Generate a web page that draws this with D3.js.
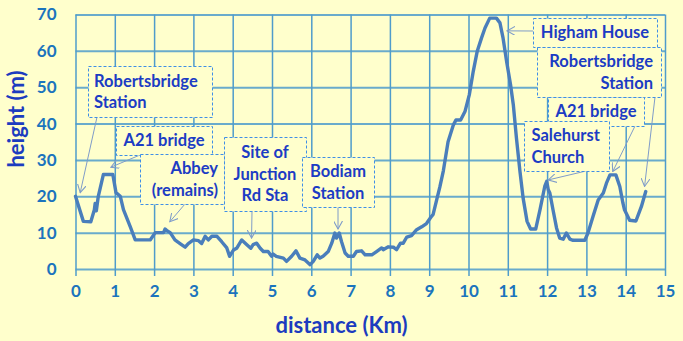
<!DOCTYPE html>
<html>
<head>
<meta charset="utf-8">
<script src="https://cdn.jsdelivr.net/npm/d3@7"></script>
<style>
  body { margin: 0; background: #ffffcc; }
  svg { display: block; }
</style>
</head>
<body>
<div id="chart"></div>
<script>
// distance along the route (km)
var distance = [0, 0.2, 0.39, 0.48, 0.5, 0.53, 0.58, 0.71, 0.95, 1.03, 1.14, 1.22, 1.39, 1.52, 1.9,
  2.03, 2.24, 2.28, 2.33, 2.41, 2.53, 2.66, 2.79, 2.87, 3.0, 3.13, 3.21, 3.3, 3.38, 3.47, 3.6,
  3.72, 3.85, 3.92, 4.02, 4.1, 4.23, 4.36, 4.46, 4.52, 4.61, 4.7, 4.78, 4.9, 4.99, 5.03, 5.11,
  5.29, 5.37, 5.5, 5.61, 5.71, 5.84, 5.97, 6.05, 6.15, 6.22, 6.3, 6.43, 6.52, 6.6, 6.64, 6.71,
  6.77, 6.86, 6.94, 7.07, 7.15, 7.28, 7.37, 7.54, 7.66, 7.79, 7.83, 7.96, 8.09, 8.17, 8.27, 8.34,
  8.43, 8.55, 8.68, 8.81, 8.93, 9.06, 9.1, 9.19, 9.27, 9.36, 9.48, 9.61, 9.68, 9.8, 9.91, 10.02,
  10.12, 10.22, 10.33, 10.42, 10.54, 10.71, 10.8, 10.88, 10.97, 11.07, 11.14, 11.22, 11.31, 11.39,
  11.49, 11.58, 11.71, 11.82, 11.94, 11.99, 12.03, 12.07, 12.15, 12.24, 12.32, 12.41, 12.49, 12.58,
  12.66, 12.96, 13.04, 13.17, 13.3, 13.43, 13.51, 13.6, 13.75, 13.85, 13.93, 13.97, 14.1, 14.26,
  14.4, 14.51];

// height above sea level (m)
var elevation = [20, 13.1, 13, 16.3, 18, 16, 20, 26, 26, 21, 20, 16.3, 11.7, 8, 8,
  10, 10, 11, 10.5, 10, 8, 7, 6, 7, 8, 7.8, 7, 9, 8, 9, 9,
  7.5, 5.8, 3.5, 5.2, 5.7, 8, 6.7, 5.7, 6.7, 7.1, 5.7, 4.8, 4.8, 3.5, 4.1, 3.5,
  3, 2.1, 3.5, 5, 3, 2.5, 1.2, 2.1, 3.9, 3, 3.5, 4.8, 7.1, 9.9, 8.5, 9.9,
  7.5, 4.4, 3.5, 3.5, 4.8, 5, 3.9, 3.9, 4.8, 5.8, 5.3, 6.1, 6, 5.3, 7.1, 7.1,
  8.8, 9.2, 10.8, 11.6, 12.5, 14.5, 15, 19, 22.5, 27, 35, 39.5, 41, 41, 43.3, 47.9,
  54.3, 59.8, 63.5, 66.3, 69, 69, 67.7, 63.5, 57.1, 50.7, 45.2, 36, 26.8, 19.5,
  13.1, 11, 11, 16.3, 22.7, 24.1, 21.8, 20.9, 16.3, 11.3, 8.5, 8.2, 9.9, 8.2,
  7.9, 7.9, 9.9, 14.5, 19, 20.9, 23.6, 25.9, 25.9, 22.7, 18.1, 16.3, 13.4, 13.2,
  17.2, 21.3];

var xTicks = d3.range(0, 16, 1);
var yTicks = d3.range(0, 80, 10);

// labelled places and the point on the profile each one points at
var placeLabels = [
  ["Robertsbridge", "Station"],
  ["A21 bridge"],
  ["Abbey", "(remains)"],
  ["Site of", "Junction", "Rd Sta"],
  ["Bodiam", "Station"],
  ["Higham House"],
  ["Robertsbridge", "Station"],
  ["A21 bridge"],
  ["Salehurst", "Church"]
];
var placeDist = [0.12, 0.9, 2.4, 4.48, 6.68, 10.98, 14.48, 13.67, 12.03];
var placeHeight = [21, 28, 13, 8.5, 11, 65.5, 22.7, 26.8, 24.5];

// box layout for each label: x, y, w, h, text anchor, arrow start
var boxLayout = [
  { x: 88, y: 66, w: 124, h: 51, anchor: "start", tx: 94, ax: 97, ay: 117 },
  { x: 116, y: 126, w: 96, h: 29, anchor: "middle", tx: 164, ax: 140, ay: 155 },
  { x: 140, y: 154, w: 84, h: 50, anchor: "end", tx: 218, ax: 185, ay: 204 },
  { x: 224, y: 137, w: 82, h: 74, anchor: "middle", tx: 265, ax: 252, ay: 211 },
  { x: 302, y: 157, w: 72, h: 50, anchor: "middle", tx: 338, ax: 338, ay: 207 },
  { x: 533, y: 18, w: 124, h: 29, anchor: "middle", tx: 595, ax: 533, ay: 31 },
  { x: 537, y: 47, w: 124, h: 50, anchor: "end", tx: 653, ax: 655, ay: 97 },
  { x: 548, y: 97, w: 96, h: 29, anchor: "middle", tx: 596, ax: 635, ay: 126 },
  { x: 524, y: 121, w: 85, h: 50, anchor: "start", tx: 531.5, ax: 586, ay: 171 }
];

var W = 683, H = 341;
var plotLeft = 75.5, plotRight = 665, plotTop = 14.5, plotBottom = 269;
var gridColor = "#4f9ccb";
var tickColor = "#1b74bd";
var titleColor = "#1c3cbf";
var font = "Lato, 'Open Sans', sans-serif";

var svg = d3.select("#chart").append("svg")
  .attr("width", W)
  .attr("height", H);

svg.append("rect")
  .attr("width", W)
  .attr("height", H)
  .attr("fill", "#ffffcc");

var x = d3.scaleLinear().domain([0, 15]).range([plotLeft, plotRight]);
var y = d3.scaleLinear().domain([0, 70]).range([plotBottom, plotTop]);

// x axis: ticks + grid lines running full height
var xAxis = svg.append("g")
  .attr("transform", "translate(0," + plotBottom + ")")
  .call(d3.axisBottom(x).tickValues(xTicks).tickSize(7).tickPadding(9).tickFormat(d3.format("d")));
xAxis.select(".domain").remove();
xAxis.selectAll(".tick line")
  .attr("y1", -(plotBottom - plotTop))
  .style("stroke", gridColor)
  .style("stroke-width", "1.5px");
xAxis.selectAll(".tick text")
  .style("fill", tickColor)
  .style("font-family", font)
  .style("font-weight", "bold")
  .style("font-size", "17px");

// y axis with horizontal grid lines
var yAxis = svg.append("g")
  .attr("transform", "translate(" + plotLeft + ",0)")
  .call(d3.axisLeft(y).tickValues(yTicks).tickSize(7).tickPadding(12).tickFormat(d3.format("d")));
yAxis.select(".domain").remove();
yAxis.selectAll(".tick line")
  .attr("x2", plotRight - plotLeft)
  .style("stroke", gridColor)
  .style("stroke-opacity", 0.85)
  .style("stroke-width", "2px");
yAxis.selectAll(".tick text")
  .style("fill", tickColor)
  .style("font-family", font)
  .style("font-weight", "bold")
  .style("font-size", "17px");

// elevation profile
var line = d3.line()
  .x(function(d, i) { return x(distance[i]); })
  .y(function(d) { return y(d); });

svg.append("path")
  .datum(elevation)
  .attr("d", line)
  .attr("fill", "none")
  .attr("stroke", "#4a7ebb")
  .attr("stroke-width", 3.4)
  .attr("stroke-linejoin", "round")
  .attr("stroke-linecap", "round");

// arrowhead marker
svg.append("defs").append("marker")
  .attr("id", "arrow")
  .attr("viewBox", "0 0 10 10")
  .attr("refX", 9)
  .attr("refY", 5)
  .attr("markerWidth", 9)
  .attr("markerHeight", 9)
  .attr("markerUnits", "userSpaceOnUse")
  .attr("orient", "auto")
  .append("path")
  .attr("d", "M0,0 L9,5 L0,10")
  .attr("fill", "none")
  .attr("stroke", "#7f9cc9")
  .attr("stroke-width", 1.2);

// callout arrows
placeLabels.forEach(function(lbl, i) {
  var b = boxLayout[i];
  svg.append("line")
    .attr("x1", b.ax)
    .attr("y1", b.ay)
    .attr("x2", x(placeDist[i]))
    .attr("y2", y(placeHeight[i]))
    .attr("stroke", "#7f9cc9")
    .attr("stroke-width", 1)
    .attr("marker-end", "url(#arrow)");
});

// callout boxes
placeLabels.forEach(function(lbl, i) {
  var b = boxLayout[i];
  var g = svg.append("g");
  g.append("rect")
    .attr("x", b.x + 0.5)
    .attr("y", b.y + 0.5)
    .attr("width", b.w)
    .attr("height", b.h)
    .attr("fill", "#ffffcc")
    .attr("stroke", "#3f8ee6")
    .attr("stroke-width", 1)
    .attr("stroke-dasharray", "3,2");

  var lineGap = 21.5;
  var firstY = b.y + b.h / 2 - (lbl.length - 1) * lineGap / 2;
  lbl.forEach(function(t, k) {
    g.append("text")
      .attr("x", b.tx)
      .attr("y", firstY + k * lineGap)
      .attr("dy", "0.36em")
      .attr("text-anchor", b.anchor)
      .style("fill", "#1c3cc4")
      .style("font-family", font)
      .style("font-weight", "bold")
      .style("font-size", "16.5px")
      .text(t);
  });
});

// axis titles
svg.append("text")
  .attr("transform", "translate(16,119) rotate(-90)")
  .attr("text-anchor", "middle")
  .attr("dy", "0.35em")
  .style("fill", titleColor)
  .style("font-family", font)
  .style("font-weight", "bold")
  .style("font-size", "22px")
  .text("height (m)");

svg.append("text")
  .attr("x", 341.5)
  .attr("y", 325)
  .attr("text-anchor", "middle")
  .attr("dy", "0.35em")
  .style("fill", titleColor)
  .style("font-family", font)
  .style("font-weight", "bold")
  .style("font-size", "22px")
  .text("distance (Km)");
</script>
</body>
</html>
